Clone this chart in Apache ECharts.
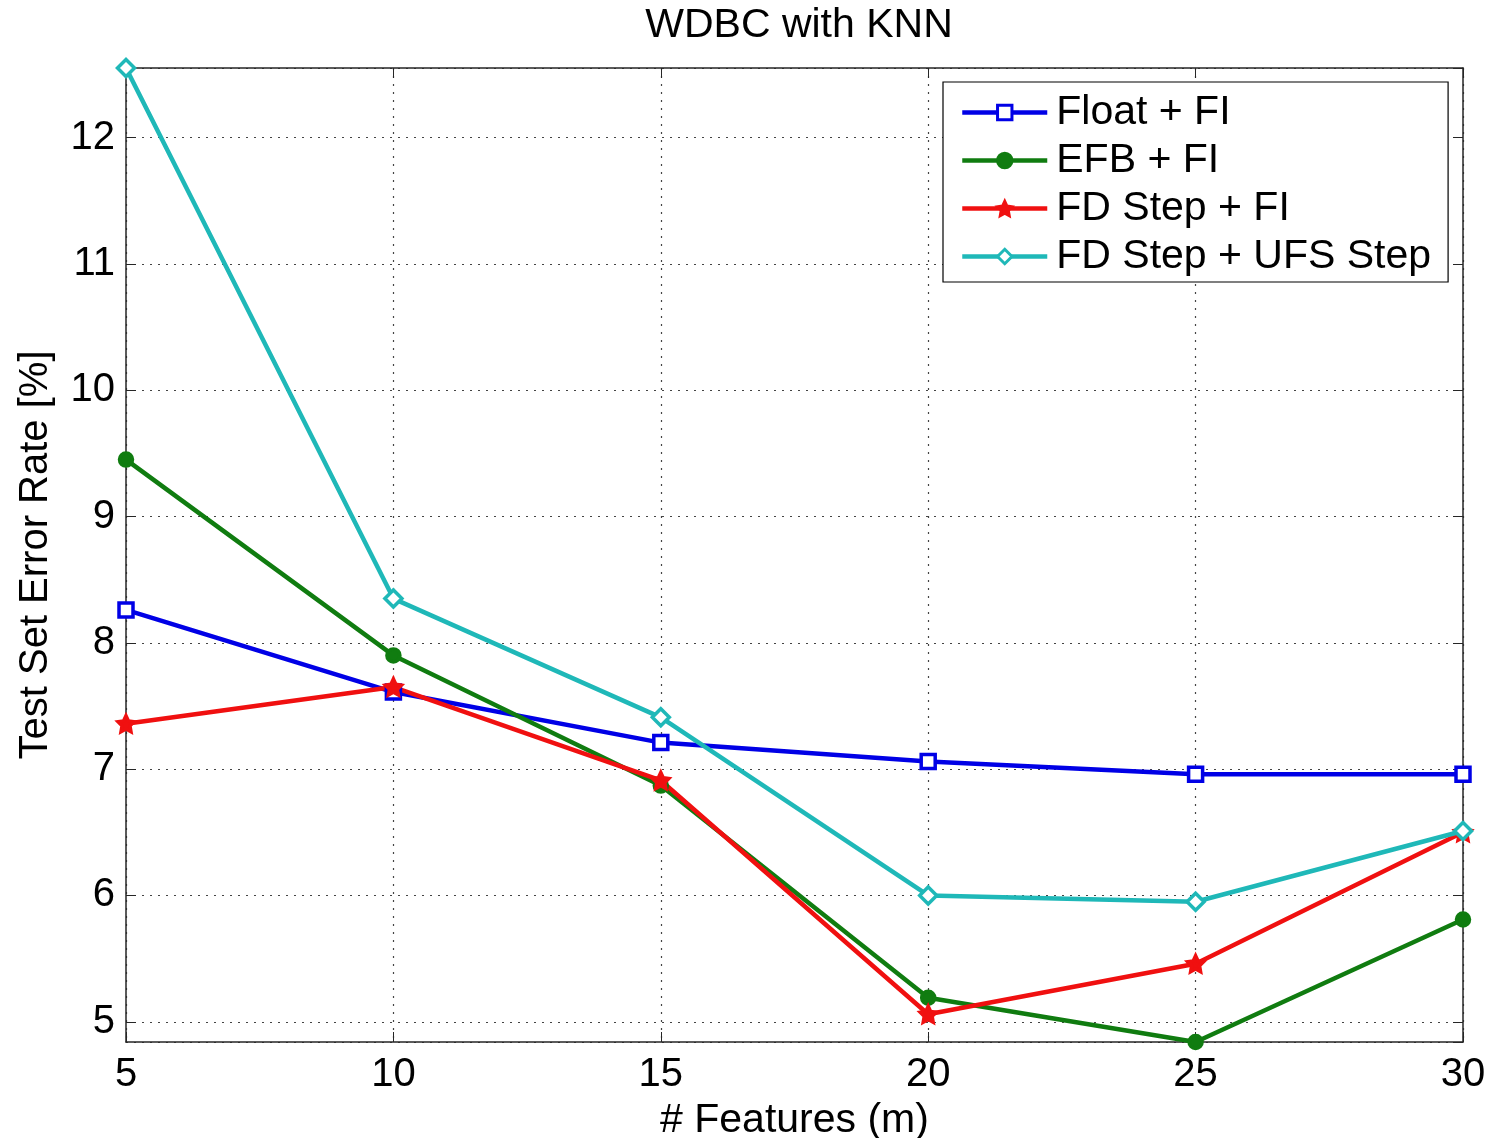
<!DOCTYPE html>
<html>
<head>
<meta charset="utf-8">
<script src="https://cdn.jsdelivr.net/npm/echarts@6/dist/echarts.min.js"></script>
<style>
  html, body { margin: 0; padding: 0; background: #fff; }
  #main { width: 1494px; height: 1138px; }
</style>
</head>
<body>
<div id="main"></div>
<script>
// number of features (x axis)
var features = [5, 10, 15, 20, 25, 30];
// test set error rate [%]
var floatFI = [8.26, 7.61, 7.21, 7.06, 6.96, 6.96];
var efbFI = [9.45, 7.90, 6.87, 5.19, 4.84, 5.81];
var fdStepFI = [7.36, 7.65, 6.91, 5.06, 5.46, 6.50];
var fdStepUFS = [12.55, 8.35, 7.41, 6.00, 5.95, 6.51];

var seriesNames = ['Float + FI', 'EFB + FI', 'FD Step + FI', 'FD Step + UFS Step'];

var yMin = 4.84, yMax = 12.55;
var font = '"Liberation Sans", Arial, Helvetica, sans-serif';

function pairs(ys) {
    return features.map(function (x, i) { return [x, ys[i]]; });
}

function mkSeries(name, ys, color, symbol, size, filled) {
    return {
        name: name,
        type: 'line',
        data: pairs(ys),
        symbol: symbol,
        symbolSize: size,
        showAllSymbol: true,
        xAxisIndex: 0,
        yAxisIndex: 0,
        lineStyle: { color: color, width: 4.5 },
        itemStyle: {
            color: filled ? color : '#ffffff',
            borderColor: color,
            borderWidth: 3.5
        },
        emphasis: { disabled: true },
        animation: false
    };
}

var myChart = echarts.init(document.getElementById('main'));

var tickStyle = { show: true, inside: true, length: 10, lineStyle: { color: '#262626', width: 1 } };
var lineStyle = { show: true, onZero: false, lineStyle: { color: '#262626', width: 1.5 } };
var gridLine = { show: true, lineStyle: { color: '#444', type: [2, 6], width: 1.2 } };

var option = {
    backgroundColor: '#ffffff',
    animation: false,
    title: {
        text: 'WDBC with KNN',
        left: 794,
        textAlign: 'center',
        top: 0,
        textStyle: { fontFamily: font, fontSize: 41, fontWeight: 'normal', color: '#000' }
    },
    grid: { left: 126, right: 31, top: 68, bottom: 96, containLabel: false, outerBoundsMode: 'none' },
    legend: {
        orient: 'vertical',
        left: 943,
        top: 82,
        padding: [10, 17, 5, 17],
        backgroundColor: '#fff',
        borderColor: '#000',
        borderWidth: 1.2,
        itemWidth: 85,
        itemHeight: 18,
        itemGap: 7,
        data: seriesNames,
        lineStyle: { width: 4.5 },
        itemStyle: { borderWidth: 3 },
        textStyle: { fontFamily: font, fontSize: 41, lineHeight: 30, color: '#000', padding: [0, 0, 0, 4] }
    },
    xAxis: [{
        type: 'value',
        min: 5,
        max: 30,
        interval: 5,
        name: '# Features (m)',
        nameLocation: 'middle',
        nameGap: 56,
        nameTextStyle: { fontFamily: font, fontSize: 41, color: '#000' },
        axisLine: lineStyle,
        axisTick: tickStyle,
        axisLabel: { margin: 13, fontFamily: font, fontSize: 40, color: '#000' },
        splitLine: gridLine
    }, {
        type: 'value',
        position: 'top',
        min: 5,
        max: 30,
        interval: 5,
        axisLine: lineStyle,
        axisTick: tickStyle,
        axisLabel: { show: false },
        splitLine: { show: false }
    }],
    yAxis: [{
        type: 'value',
        min: yMin,
        max: yMax,
        splitNumber: 8,
        name: 'Test Set Error Rate [%]',
        nameLocation: 'middle',
        nameGap: 70,
        nameTextStyle: { fontFamily: font, fontSize: 40, color: '#000' },
        axisLine: lineStyle,
        axisTick: tickStyle,
        axisLabel: {
            margin: 11,
            fontFamily: font,
            fontSize: 40,
            color: '#000',
            showMinLabel: false,
            showMaxLabel: false,
            formatter: function (v) {
                return Math.abs(v - Math.round(v)) < 1e-6 ? String(Math.round(v)) : '';
            }
        },
        splitLine: gridLine
    }, {
        type: 'value',
        position: 'right',
        min: yMin,
        max: yMax,
        splitNumber: 8,
        axisLine: lineStyle,
        axisTick: tickStyle,
        axisLabel: { show: false },
        splitLine: { show: false }
    }],
    series: [
        mkSeries(seriesNames[0], floatFI, '#0000e6', 'rect', 14, false),
        mkSeries(seriesNames[1], efbFI, '#107c10', 'circle', 13, true),
        mkSeries(seriesNames[2], fdStepFI, '#f01010', 'path://M0,-10 L2.9,-4 L9.5,-3.1 L4.7,1.5 L5.9,8.1 L0,5 L-5.9,8.1 L-4.7,1.5 L-9.5,-3.1 L-2.9,-4 Z', 16, true),
        mkSeries(seriesNames[3], fdStepUFS, '#1fb8b8', 'diamond', 17, false)
    ]
};

myChart.setOption(option);
window.addEventListener('resize', function () {
    myChart.resize();
});
</script>
</body>
</html>
